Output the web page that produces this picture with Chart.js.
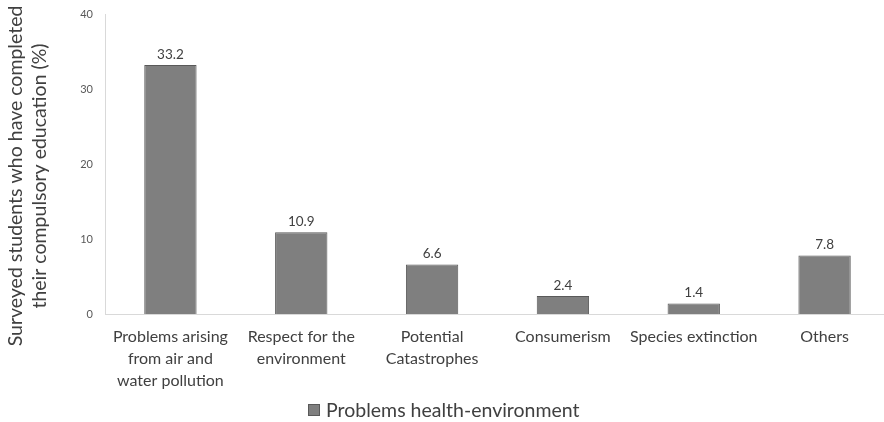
<!DOCTYPE html>
<html>
<head>
<meta charset="utf-8">
<script src="https://cdn.jsdelivr.net/npm/chart.js@4/dist/chart.umd.min.js"></script>
<style>
  html, body { margin: 0; padding: 0; background: #fff; overflow: hidden; }
  .wrap { position: relative; width: 890px; height: 422px; }
  #legend { position: absolute; left: 308px; top: 398px; font: 19.5px Lato, sans-serif; color: #404040; display: flex; align-items: center; white-space: nowrap; }
  #legend .box { width: 12px; height: 12px; background: #7f7f7f; border: 1px solid #595959; margin-right: 6px; box-sizing: border-box; }
</style>
</head>
<body>
<div class="wrap">
  <canvas id="chart" width="890" height="422"></canvas>
  <div id="legend"><span class="box"></span><span>Problems health-environment</span></div>
</div>
<script>
// ===== DATA =====
const categories = [
  ['Problems arising', 'from air and', 'water pollution'],
  ['Respect for the', 'environment'],
  ['Potential', 'Catastrophes'],
  'Consumerism',
  'Species extinction',
  'Others'
];
const values = [33.2, 10.9, 6.6, 2.4, 1.4, 7.8];
const seriesName = 'Problems health-environment';
const yTitle = ['Surveyed students who have completed', 'their compulsory education (%)'];

const FONT = 'Lato, sans-serif';

// ===== VALUE LABELS =====
const valueLabels = {
  id: 'valueLabels',
  afterDatasetsDraw(chart) {
    const ctx = chart.ctx;
    const meta = chart.getDatasetMeta(0);
    ctx.save();
    ctx.font = '13.5px ' + FONT;
    ctx.fillStyle = '#404040';
    ctx.textAlign = 'center';
    ctx.textBaseline = 'bottom';
    meta.data.forEach((bar, i) => {
      ctx.fillText(values[i].toFixed(1), bar.x, bar.y - 4);
    });
    ctx.restore();
  }
};

// ===== Y TITLE (two rotated lines, a bit below the plot centre like the source) =====
const yTitlePlugin = {
  id: 'yTitlePlugin',
  afterDraw(chart) {
    const ctx = chart.ctx;
    const cy = 176;
    ctx.save();
    ctx.font = '19.5px ' + FONT;
    ctx.fillStyle = '#404040';
    ctx.textAlign = 'center';
    ctx.textBaseline = 'middle';
    [16, 40].forEach((x, i) => {
      ctx.save();
      ctx.translate(x, cy);
      ctx.rotate(-Math.PI / 2);
      ctx.fillText(yTitle[i], 0, 0);
      ctx.restore();
    });
    ctx.restore();
  }
};

new Chart(document.getElementById('chart'), {
  type: 'bar',
  data: {
    labels: categories,
    datasets: [{
      label: seriesName,
      data: values,
      backgroundColor: '#7f7f7f',
      borderColor: '#595959',
      borderWidth: 1,
      barPercentage: 0.4,
      categoryPercentage: 1
    }]
  },
  options: {
    responsive: false,
    animation: false,
    layout: { padding: { top: 14, right: 0, bottom: 0, left: 0 } },
    plugins: {
      legend: { display: false },
      tooltip: { enabled: false }
    },
    scales: {
      x: {
        grid: { display: false, drawTicks: false },
        border: { color: '#d9d9d9', width: 1 },
        ticks: { font: { size: 16, family: FONT, lineHeight: 1.375 }, color: '#404040', padding: 12, maxRotation: 0, autoSkip: false },
        afterFit(scale) { scale.height = 108; }
      },
      y: {
        min: 0, max: 40,
        ticks: { stepSize: 10, font: { size: 11, family: FONT }, color: '#595959', padding: 12 },
        grid: { display: false, drawTicks: false },
        border: { color: '#d9d9d9', width: 1 },
        afterFit(scale) { scale.width = 105; scale.paddingTop = 0; scale.paddingBottom = 0; }
      }
    }
  },
  plugins: [valueLabels, yTitlePlugin]
});
</script>
</body>
</html>
